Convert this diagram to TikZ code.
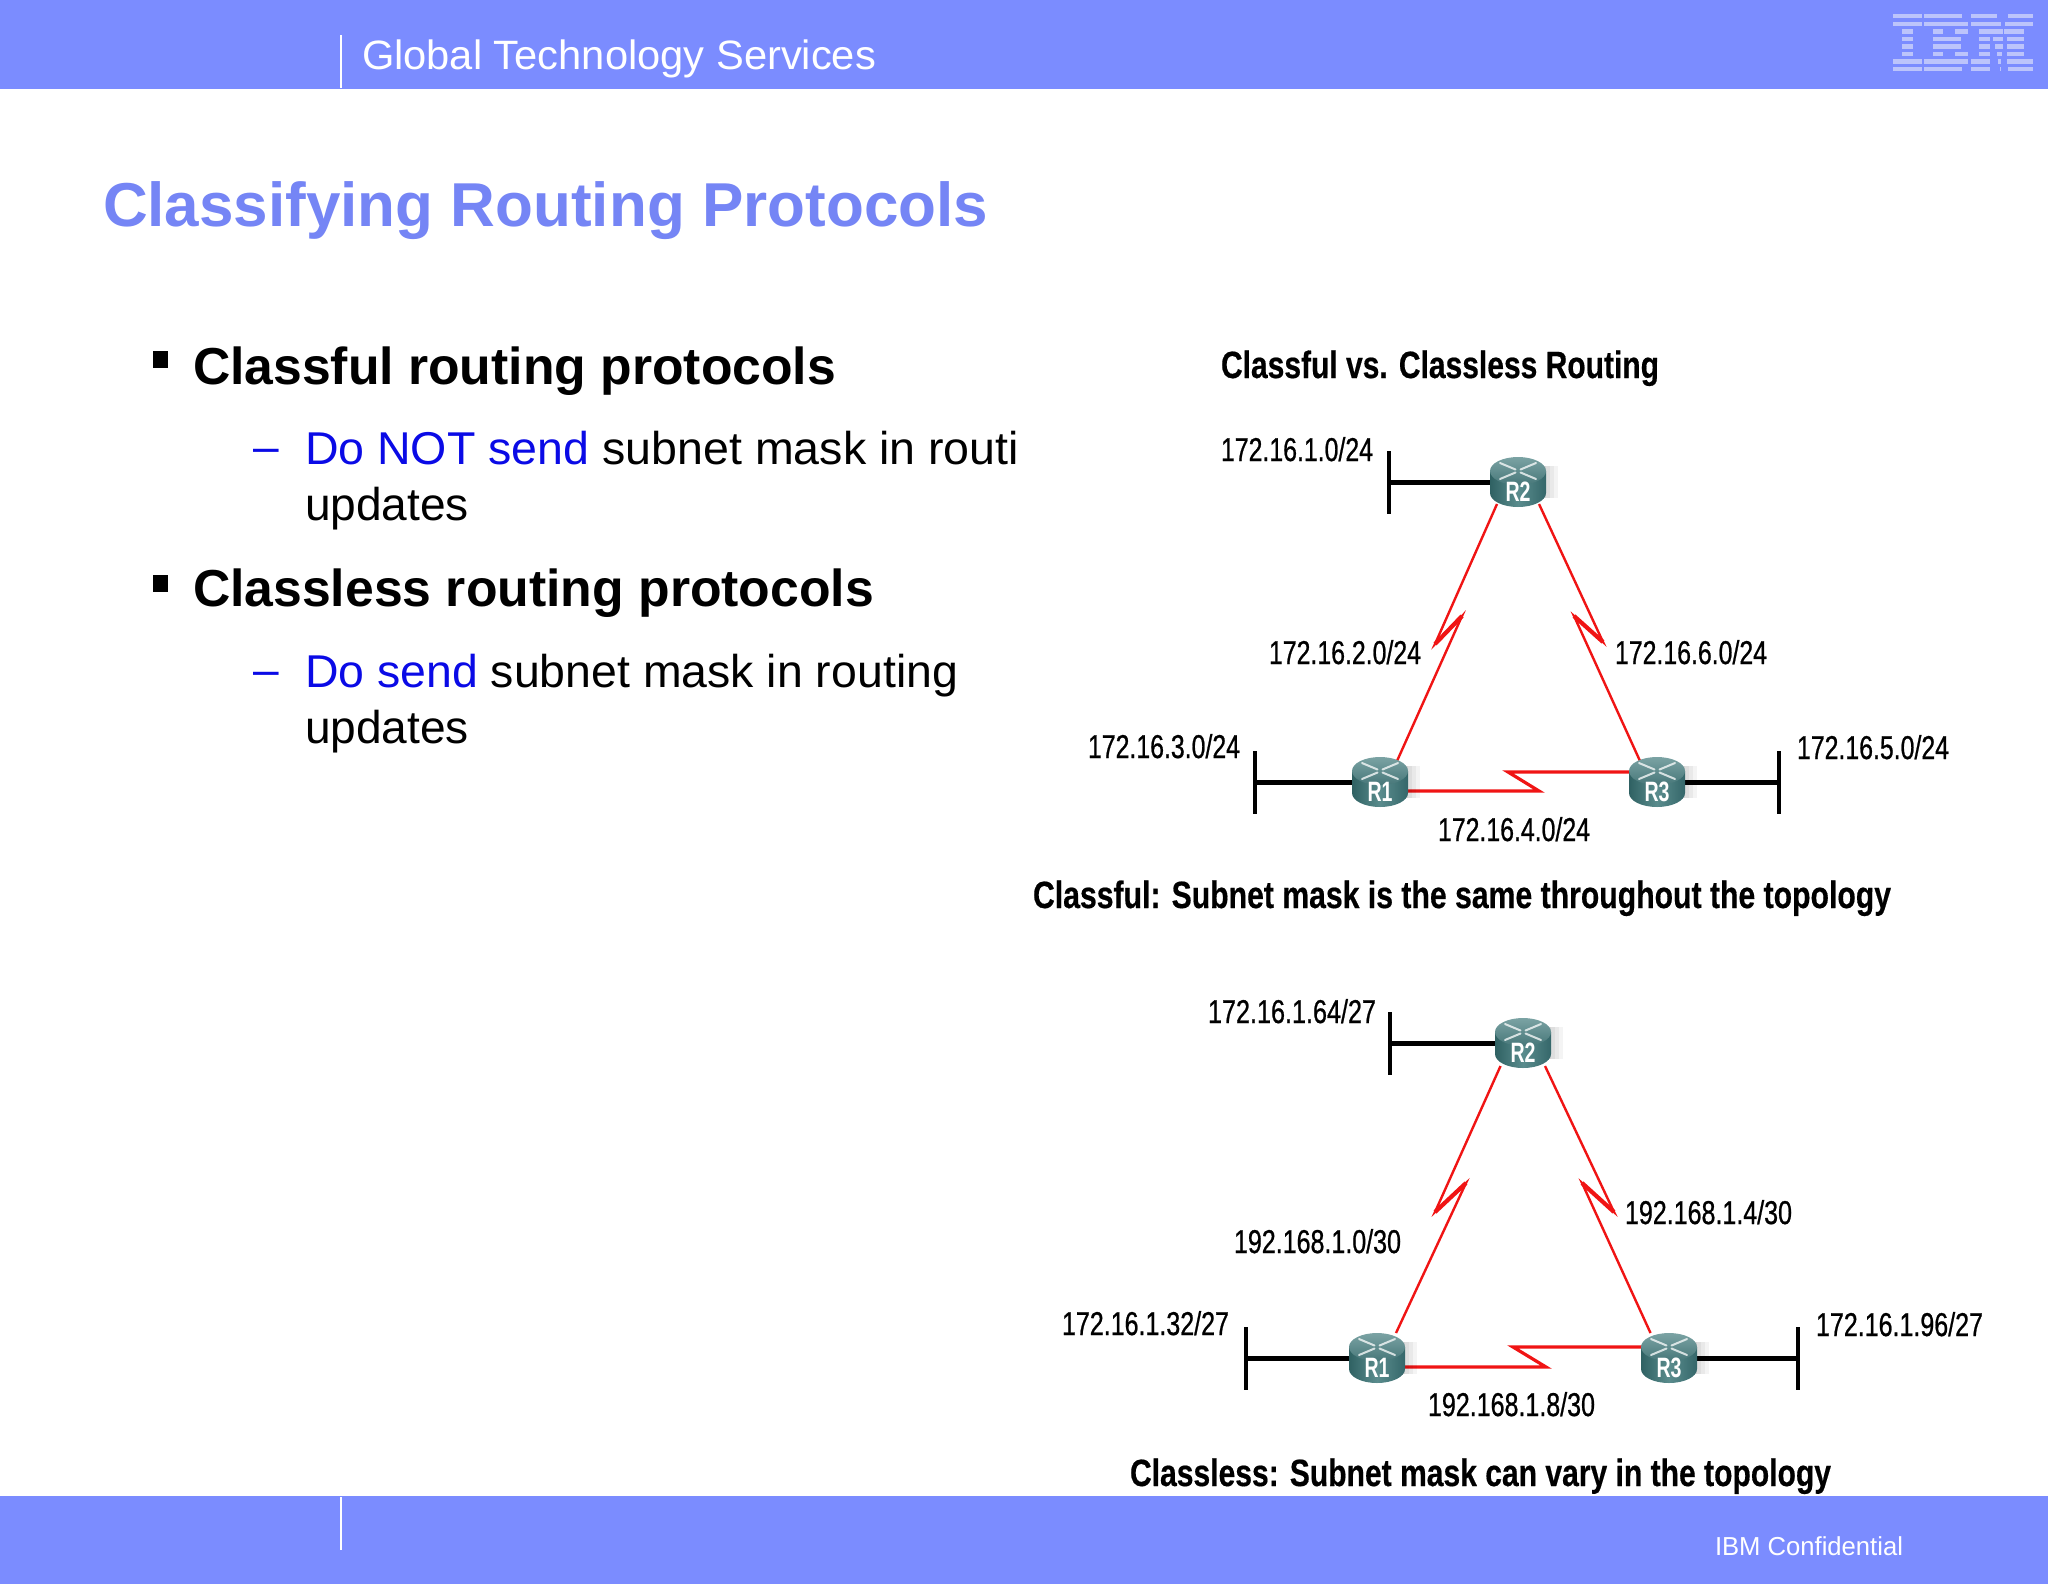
\documentclass[tikz,border=0pt]{standalone}
\usepackage{fontspec}
\usepackage{graphicx}
\setmainfont{Liberation Sans}
\newfontfamily\labelfont[FakeBold=0.9]{Liberation Sans}
\newfontfamily\captionfont[FakeBold=0.5]{Liberation Sans Bold}
\usetikzlibrary{calc}
\definecolor{band}{HTML}{7B8CFF}
\definecolor{titleblue}{HTML}{7585F5}
\definecolor{textblue}{HTML}{0A0AE6}
\definecolor{logostripe}{HTML}{BCC4FB}
\definecolor{serialred}{HTML}{F01414}
\definecolor{rleft}{HTML}{2F6163}
\definecolor{rmid}{HTML}{5A8C8D}
\definecolor{rright}{HTML}{35676A}
\definecolor{rtop}{HTML}{7BA3A4}
\definecolor{rtopb}{HTML}{477779}
\pgfdeclarelayer{bg}\pgfdeclarelayer{back}
\pgfsetlayers{bg,back,main}
\newcommand\tw[2]{\resizebox{\dimexpr #1pt/2\relax}{\height}{#2}}
\tikzset{
  txtbase/.style={anchor=base west,inner sep=0pt,outer sep=0pt},
  labeltxt/.style={txtbase,font=\labelfont\fontsize{16.5}{16.5}\selectfont,text=black},
  captiontxt/.style={txtbase,font=\captionfont\fontsize{19}{19}\selectfont,text=black},
  headtxt/.style={txtbase,font=\bfseries\fontsize{26}{26}\selectfont,text=black},
  subtxt/.style={txtbase,font=\fontsize{23}{23}\selectfont,text=black},
  netbar/.style={fill=black,inner sep=0pt,minimum width=1.8pt,minimum height=31.5pt},
  lanline/.style={line width=2.5pt,black},
  serialline/.style={line width=1.2pt,serialred,line join=miter},
  seriallineb/.style={line width=1.6pt,serialred,line join=miter},
  serialtip/.style={line width=2.1pt,serialred,line join=miter},
  routerbox/.style={inner sep=0pt,minimum width=28pt,minimum height=25pt},
  rlabel/.style={inner sep=0pt,text=white,font=\bfseries\fontsize{14}{14}\selectfont},
  xarm/.style={line width=1pt,white,opacity=.75,line cap=round},
  bulletsq/.style={fill=black,inner sep=0pt,minimum width=7.5pt,minimum height=8.5pt},
  logostripe/.style={fill=logostripe,draw=none},
}
\newcommand\routerfig[4]{%
  \begin{scope}[shift={(#2,#3)}]
    \foreach \s in {4,8,12,16}{
      \fill[black,opacity=.045] (-22+\s,-16) rectangle (24+\s,16);
    }
    \shade[left color=rleft,right color=rright,middle color=rmid]
      (-28,-11) -- (-28,11) arc[x radius=14pt,y radius=7pt,start angle=180,end angle=360] -- (28,-11) -- cycle;
    \shade[top color=rtop,bottom color=rtopb]
      (0,-11) ellipse[x radius=14pt,y radius=7pt];
    \draw[xarm] (-18,-19) -- (-2.5,-12.5) (18,-19) -- (2.5,-12.5) (-18,-3) -- (-2.5,-9.5) (18,-3) -- (2.5,-9.5);
    \node[routerbox] (#1) at (0,0) {};
    \node[rlabel] (#1lab) at (0,10) {\tw{25}{#4}};
  \end{scope}}
\newcommand\ibmrow[2]{\foreach \a/\b in {#2}{\fill[logostripe] ($(1840,0)+(\a/3,#1/3)$) rectangle ($(1840,0)+(\b/3,#1/3+13/3)$);}}
\begin{document}
\begin{tikzpicture}[x=0.5pt,y=-0.5pt]
\useasboundingbox (0,0) rectangle (2048,1584);
\begin{pgfonlayer}{bg}
  \fill[white] (0,0) rectangle (2048,1584);
  \fill[band] (0,0) rectangle (2048,89);
  \fill[band] (0,1496) rectangle (2048,1584);
  \fill[white] (340,35) rectangle (342,88);
  \fill[white] (340,1497) rectangle (342,1550);
  \ibmrow{42}{160/245,253/365,393/470,505/578}
  \ibmrow{65}{160/245,253/385,393/482,495/578}
  \ibmrow{88}{185/220,280/310,345/385,418/488,492/552}
  \ibmrow{110}{185/220,280/362,418/450,460/490,500/552}
  \ibmrow{133}{185/220,280/362,418/450,465/490,500/552}
  \ibmrow{155}{185/220,280/310,345/385,418/450,470/485,500/552}
  \ibmrow{178}{160/245,253/385,393/450,475/482,500/578}
  \ibmrow{201}{160/245,253/365,393/450,479/484,505/578}
\end{pgfonlayer}
% header / footer text
\node[txtbase,text=white,font=\fontsize{20.5}{20.5}\selectfont] (hdr) at (362,69) {\tw{514}{Global Technology Services}};
\node[txtbase,text=white,font=\fontsize{13}{13}\selectfont] (conf) at (1715,1555) {\tw{188}{IBM Confidential}};
\node[txtbase,text=titleblue,font=\bfseries\fontsize{31}{31}\selectfont] (title) at (103,226) {\tw{885}{Classifying Routing Protocols}};
% bullets
\node[bulletsq] (b1) at (160.5,359.5) {};
\node[headtxt] (h1) at (193,384) {\tw{643}{Classful routing protocols}};
\node[subtxt,text=textblue] (d1) at (253,462) {–};
\node[subtxt] (s1a) at (305,464) {\tw{714}{{\color{textblue}Do NOT send} subnet mask in routi}};
\node[subtxt] (s1b) at (305,520) {\tw{164}{updates}};
\node[bulletsq] (b2) at (160.5,583.5) {};
\node[headtxt] (h2) at (193,606) {\tw{681}{Classless routing protocols}};
\node[subtxt,text=textblue] (d2) at (253,685) {–};
\node[subtxt] (s2a) at (305,687) {\tw{653}{{\color{textblue}Do send} subnet mask in routing}};
\node[subtxt] (s2b) at (305,743) {\tw{164}{updates}};
% diagram 1
\node[captiontxt] (t1) at (1221,378) {\tw{438}{Classful vs. Classless Routing}};
\routerfig{Ra2}{1518}{482}{R2}
\routerfig{Ra1}{1380}{782}{R1}
\routerfig{Ra3}{1657}{782}{R3}
\node[netbar] (na2) at (1389,482) {};
\node[netbar] (na1) at (1255,782) {};
\node[netbar] (na3) at (1779,782) {};
\coordinate (a21) at (1435,644); \coordinate (a22) at (1462,616);
\coordinate (a31) at (1603,642); \coordinate (a32) at (1574,616);
\coordinate (a41) at (1539,791); \coordinate (a42) at (1508,772);
\begin{pgfonlayer}{back}
  \draw[lanline] (na2) -- (Ra2);
  \draw[lanline] (na1) -- (Ra1);
  \draw[lanline] (na3) -- (Ra3);
  \draw[serialline] ($(Ra2)+(-21,22)$) -- (a21) -- (a22) -- ($(Ra1)+(17,-21)$);
  \draw[serialline] ($(Ra2)+(21,22)$) -- (a31) -- (a32) -- ($(Ra3)+(-17,-21)$);
  \draw[seriallineb] ($(Ra1)+(26,9)$) -- (a41) -- (a42) -- ($(Ra3)+(-27,-10)$);
  \draw[serialtip] (a21) -- (a22);
  \draw[serialtip] (a31) -- (a32);
\end{pgfonlayer}
\node[labeltxt] (la1) at (1221,461) {\tw{152}{172.16.1.0/24}};
\node[labeltxt] (la2) at (1269,664) {\tw{152}{172.16.2.0/24}};
\node[labeltxt] (la3) at (1615,664) {\tw{152}{172.16.6.0/24}};
\node[labeltxt] (la4) at (1088,758) {\tw{152}{172.16.3.0/24}};
\node[labeltxt] (la5) at (1797,759) {\tw{152}{172.16.5.0/24}};
\node[labeltxt] (la6) at (1438,841) {\tw{152}{172.16.4.0/24}};
\node[captiontxt] (c1) at (1033,908) {\tw{858}{Classful: Subnet mask is the same throughout the topology}};
% diagram 2
\routerfig{Rb2}{1523}{1043}{R2}
\routerfig{Rb1}{1377}{1358}{R1}
\routerfig{Rb3}{1669}{1358}{R3}
\node[netbar] (nb2) at (1390,1043) {};
\node[netbar] (nb1) at (1246,1358) {};
\node[netbar] (nb3) at (1798,1358) {};
\coordinate (b21) at (1435,1212); \coordinate (b22) at (1466,1183);
\coordinate (b31) at (1614,1212); \coordinate (b32) at (1582,1183);
\coordinate (b41) at (1546,1367); \coordinate (b42) at (1513,1347);
\begin{pgfonlayer}{back}
  \draw[lanline] (nb2) -- (Rb2);
  \draw[lanline] (nb1) -- (Rb1);
  \draw[lanline] (nb3) -- (Rb3);
  \draw[serialline] ($(Rb2)+(-22.5,23)$) -- (b21) -- (b22) -- ($(Rb1)+(19,-25)$);
  \draw[serialline] ($(Rb2)+(22,23)$) -- (b31) -- (b32) -- ($(Rb3)+(-18.5,-25)$);
  \draw[seriallineb] ($(Rb1)+(26,9)$) -- (b41) -- (b42) -- ($(Rb3)+(-27,-11)$);
  \draw[serialtip] (b21) -- (b22);
  \draw[serialtip] (b31) -- (b32);
\end{pgfonlayer}
\node[labeltxt] (lb1) at (1208,1023) {\tw{168}{172.16.1.64/27}};
\node[labeltxt] (lb2) at (1234,1253) {\tw{167}{192.168.1.0/30}};
\node[labeltxt] (lb3) at (1625,1224) {\tw{167}{192.168.1.4/30}};
\node[labeltxt] (lb4) at (1062,1335) {\tw{167}{172.16.1.32/27}};
\node[labeltxt] (lb5) at (1816,1336) {\tw{167}{172.16.1.96/27}};
\node[labeltxt] (lb6) at (1428,1416) {\tw{167}{192.168.1.8/30}};
\node[captiontxt] (c2) at (1130,1486) {\tw{701}{Classless: Subnet mask can vary in the topology}};
\end{tikzpicture}
\end{document}
